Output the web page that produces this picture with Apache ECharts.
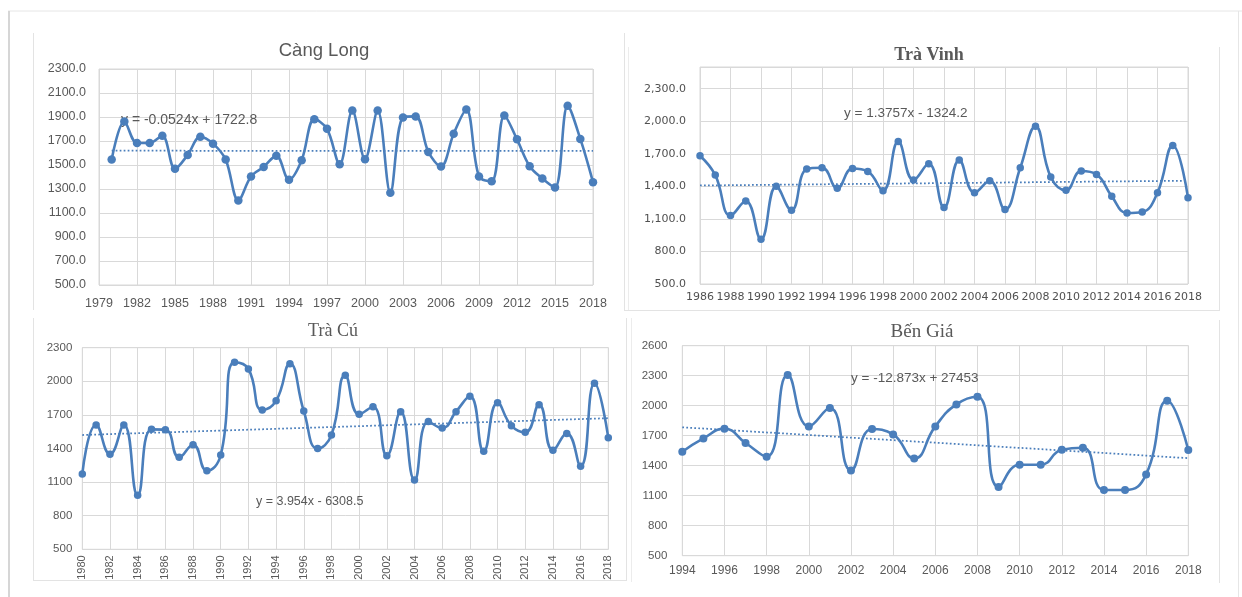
<!DOCTYPE html>
<html><head><meta charset="utf-8">
<script src="https://cdn.jsdelivr.net/npm/echarts@6/dist/echarts.min.js"></script>
<style>html,body{margin:0;padding:0;background:#fff}#c{width:1242px;height:597px}</style>
</head><body><div id="c"></div>
<script>
// ---- Data ----
const cangLongYears = [1980,1981,1982,1983,1984,1985,1986,1987,1988,1989,1990,1991,1992,1993,1994,1995,1996,1997,1998,1999,2000,2001,2002,2003,2004,2005,2006,2007,2008,2009,2010,2011,2012,2013,2014,2015,2016,2017,2018];
const cangLongValues = [1545,1863,1683,1683,1744,1468,1584,1736,1678,1545,1205,1404,1484,1578,1377,1540,1882,1802,1506,1954,1548,1954,1269,1896,1905,1609,1487,1761,1963,1404,1365,1913,1714,1490,1388,1313,1993,1717,1357];
const cangLongTrend = [-0.0524, 1722.8];
const cangLongEq = 'y = -0.0524x + 1722.8';

const traVinhYears = [1986,1987,1988,1989,1990,1991,1992,1993,1994,1995,1996,1997,1998,1999,2000,2001,2002,2003,2004,2005,2006,2007,2008,2009,2010,2011,2012,2013,2014,2015,2016,2017,2018];
const traVinhValues = [1682,1504,1131,1265,913,1400,1180,1559,1571,1382,1565,1538,1360,1813,1458,1608,1204,1642,1342,1452,1186,1571,1954,1486,1363,1541,1510,1308,1155,1164,1342,1777,1296];
const traVinhTrend = [1.3757, -1324.2];
const traVinhEq = 'y = 1.3757x - 1324.2';

const traCuYears = [1980,1981,1982,1983,1984,1985,1986,1987,1988,1989,1990,1991,1992,1993,1994,1995,1996,1997,1998,1999,2000,2001,2002,2003,2004,2005,2006,2007,2008,2009,2010,2011,2012,2013,2014,2015,2016,2017,2018];
const traCuValues = [1172,1610,1348,1610,982,1571,1568,1321,1434,1202,1342,2169,2110,1744,1827,2157,1735,1399,1521,2053,1705,1773,1336,1729,1119,1640,1583,1729,1866,1375,1809,1604,1544,1791,1384,1535,1241,1982,1497];
const traCuTrend = [3.954, -6308.5];
const traCuEq = 'y = 3.954x - 6308.5';

const benGiaYears = [1994,1995,1996,1997,1998,1999,2000,2001,2002,2003,2004,2005,2006,2007,2008,2009,2010,2011,2012,2013,2014,2015,2016,2017,2018];
const benGiaValues = [1540,1673,1770,1627,1490,2307,1793,1977,1353,1767,1713,1473,1793,2013,2090,1187,1410,1410,1560,1580,1157,1157,1313,2050,1557];
const benGiaTrend = [-12.873, 27453];
const benGiaEq = 'y = -12.873x + 27453';

const titles = ['Càng Long', 'Trà Vinh', 'Trà Cú', 'Bến Giá'];

// ---- Chart ----
const BLUE = '#4a7ebb';
const GRID = '#d9d9d9';
const TXT = '#595959';
const chart = echarts.init(document.getElementById('c'), null, {renderer: 'canvas'});

function pairs(xs, ys) { return xs.map((x, i) => [x, ys[i]]); }
function trend(xs, c) {
  const x0 = xs[0], x1 = xs[xs.length - 1];
  return [[x0, c[0] * x0 + c[1]], [x1, c[0] * x1 + c[1]]];
}

const grids = [
  {left: 99, top: 69, width: 494, height: 216},
  {left: 700, top: 67, width: 488, height: 217},
  {left: 82.3, top: 347.7, width: 526, height: 201.6},
  {left: 682.3, top: 345.7, width: 506, height: 210}
].map(g => Object.assign({show: true, borderColor: GRID, borderWidth: 1, backgroundColor: 'transparent'}, g));

function xAxis(gi, min, max, interval, labelOpt) {
  return {
    type: 'value', gridIndex: gi, min, max, interval,
    axisLine: {show: false}, axisTick: {show: false},
    splitLine: {show: true, lineStyle: {color: GRID, width: 1}},
    axisLabel: Object.assign({color: TXT, formatter: v => String(v)}, labelOpt)
  };
}
function yAxis(gi, min, max, interval, labelOpt) {
  return {
    type: 'value', gridIndex: gi, min, max, interval,
    axisLine: {show: false}, axisTick: {show: false},
    splitLine: {show: true, lineStyle: {color: GRID, width: 1}},
    axisLabel: Object.assign({color: TXT, formatter: v => String(v)}, labelOpt)
  };
}

const xAxes = [
  xAxis(0, 1979, 2018, 3, {fontFamily: 'Liberation Sans, Arial', fontSize: 12.5, margin: 12}),
  xAxis(1, 1986, 2018, 2, {fontFamily: 'DejaVu Sans', fontSize: 11, margin: 8, color: '#505050'}),
  xAxis(2, 1980, 2018, 2, {fontFamily: 'Liberation Sans, Arial', fontSize: 11, margin: 6, rotate: 90}),
  xAxis(3, 1994, 2018, 2, {fontFamily: 'Liberation Sans, Arial', fontSize: 12, margin: 9})
];
const yAxes = [
  yAxis(0, 500, 2300, 200, {fontFamily: 'Liberation Sans, Arial', fontSize: 12.5, margin: 13, formatter: v => v.toFixed(1)}),
  yAxis(1, 500, 2500, 300, {fontFamily: 'DejaVu Sans', fontSize: 11, margin: 14, color: '#505050',
    formatter: v => v > 2300 ? '' : v.toLocaleString('en-US', {minimumFractionDigits: 1, maximumFractionDigits: 1})}),
  yAxis(2, 500, 2300, 300, {fontFamily: 'Liberation Sans, Arial', fontSize: 11.5, margin: 10}),
  yAxis(3, 500, 2600, 300, {fontFamily: 'Liberation Sans, Arial', fontSize: 11.5, margin: 15})
];

function lineSeries(gi, xs, ys, size, sm) {
  return {
    type: 'line', xAxisIndex: gi, yAxisIndex: gi, data: pairs(xs, ys),
    smooth: sm, symbol: 'circle', symbolSize: size, z: 3,
    lineStyle: {color: BLUE, width: 2.6}, itemStyle: {color: BLUE}, animation: false
  };
}
function trendSeries(gi, xs, c) {
  return {
    type: 'line', xAxisIndex: gi, yAxisIndex: gi, data: trend(xs, c),
    symbol: 'none', z: 2, silent: true,
    lineStyle: {color: BLUE, width: 1.75, type: [1.75, 2.25]}, animation: false
  };
}

const series = [
  trendSeries(0, cangLongYears, cangLongTrend), lineSeries(0, cangLongYears, cangLongValues, 8.5, 0.35),
  trendSeries(1, traVinhYears, traVinhTrend), lineSeries(1, traVinhYears, traVinhValues, 7.5, 0.45),
  trendSeries(2, traCuYears, traCuTrend), lineSeries(2, traCuYears, traCuValues, 7.5, 0.5),
  trendSeries(3, benGiaYears, benGiaTrend), lineSeries(3, benGiaYears, benGiaValues, 8, 0.5)
];

function line(x1, y1, x2, y2, color, w) {
  return {type: 'line', shape: {x1, y1, x2, y2}, style: {stroke: color || '#e3e3e3', lineWidth: w || 1}, silent: true, z: -1};
}
function text(t, x, y, font, align) {
  return {type: 'text', x, y, style: {text: t, fill: TXT, font, textAlign: align || 'left', textVerticalAlign: 'middle'}, z: 1, silent: true};
}

const graphic = [
  // outer frame
  line(8, 11, 1242, 11, '#e6e6e6'),
  line(9, 11, 9, 597, '#d6d6d6', 2),
  line(1238.5, 11, 1238.5, 597, '#e6e6e6'),
  // panel frames
  line(33.5, 33, 33.5, 310, '#e3e3e3'),
  line(624.5, 33, 624.5, 310, '#e3e3e3'),
  line(628.5, 47, 628.5, 310, '#ececec'),
  line(624, 310.5, 1220, 310.5, '#e3e3e3'),
  line(1219.5, 47, 1219.5, 310, '#e3e3e3'),
  line(33.5, 318, 33.5, 580, '#e3e3e3'),
  line(33, 580.5, 627, 580.5, '#e3e3e3'),
  line(626.5, 318, 626.5, 580, '#e3e3e3'),
  line(631.5, 318, 631.5, 582, '#ececec'),
  line(1219.5, 320, 1219.5, 583, '#e3e3e3'),
  // titles
  text(titles[0], 324, 51, '18.5px "Liberation Sans", Arial, sans-serif', 'center'),
  text(titles[1], 929, 55, 'bold 18px "Liberation Serif", "Times New Roman", serif', 'center'),
  text(titles[2], 333, 331, '18px "Liberation Serif", "Times New Roman", serif', 'center'),
  text(titles[3], 922, 332, '19px "Liberation Serif", "Times New Roman", serif', 'center'),
  // trend equations
  text(cangLongEq, 121, 120, '14px "Liberation Sans", Arial, sans-serif'),
  text(traVinhEq, 844, 113, '13.5px "Liberation Sans", Arial, sans-serif'),
  text(traCuEq, 256, 502, '12.5px "Liberation Sans", Arial, sans-serif'),
  text(benGiaEq, 851, 378, '13.5px "Liberation Sans", Arial, sans-serif')
];

chart.setOption({
  animation: false,
  backgroundColor: '#ffffff',
  grid: grids,
  xAxis: xAxes,
  yAxis: yAxes,
  series,
  graphic
});
</script></body></html>
